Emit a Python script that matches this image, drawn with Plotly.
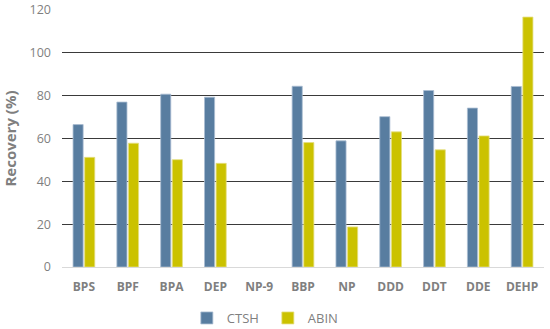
import plotly.graph_objects as go

categories = ["BPS", "BPF", "BPA", "DEP", "NP-9", "BBP", "NP", "DDD", "DDT", "DDE", "DEHP"]
ctsh = [66.5, 77.0, 80.7, 79.3, None, 84.4, 58.9, 70.2, 82.4, 74.2, 84.3]
abin = [51.2, 57.8, 50.1, 48.4, None, 58.1, 18.7, 63.1, 54.7, 61.2, 116.7]
y_ticks = [0, 20, 40, 60, 80, 100, 120]

fig = go.Figure()
fig.add_trace(go.Bar(name="CTSH", x=categories, y=ctsh,
                     marker=dict(color="#587DA0", line=dict(color="#A9BDD2", width=0.8))))
fig.add_trace(go.Bar(name="ABIN", x=categories, y=abin,
                     marker=dict(color="#CBC200", line=dict(color="#E4DE80", width=0.8))))

font_fam = "Open Sans, Liberation Sans, sans-serif"
fig.update_layout(
    width=550, height=329,
    margin=dict(l=62, r=6, t=10, b=62),
    paper_bgcolor="white", plot_bgcolor="white",
    barmode="group", bargap=0.47, bargroupgap=0.13,
    font=dict(family=font_fam, color="#808080", size=12),
    showlegend=True,
    legend=dict(orientation="h", x=0.487, xanchor="center", xref="container",
                y=1 - 318 / 329, yanchor="middle", yref="container",
                font=dict(size=13, color="#7F7F7F"), itemwidth=30, traceorder="normal",
                entrywidth=36, tracegroupgap=0),
    xaxis=dict(showgrid=False, showline=True, linecolor="#D9D9D9", linewidth=1,
               ticks="", automargin=False,
               tickfont=dict(size=12, color="#7F7F7F", family=font_fam),
               ticklabelstandoff=9),
    yaxis=dict(range=[0, 120], tickvals=y_ticks, showgrid=True, gridcolor="#3A3A3A",
               gridwidth=1, zeroline=False, showline=False, ticks="", automargin=False,
               tickfont=dict(size=12.5, color="#7F7F7F", family=font_fam),
               ticklabelstandoff=10,
               title=dict(text="<b>Recovery (%)</b>", font=dict(size=15, color="#7F7F7F"))),
)
fig.update_xaxes(tickprefix="<b>", ticksuffix="</b>")
fig.update_yaxes(tickprefix="<b>", ticksuffix="</b>")
fig.write_html("out.html", config={"displayModeBar": False},
               post_script="document.body.style.margin='0';")
